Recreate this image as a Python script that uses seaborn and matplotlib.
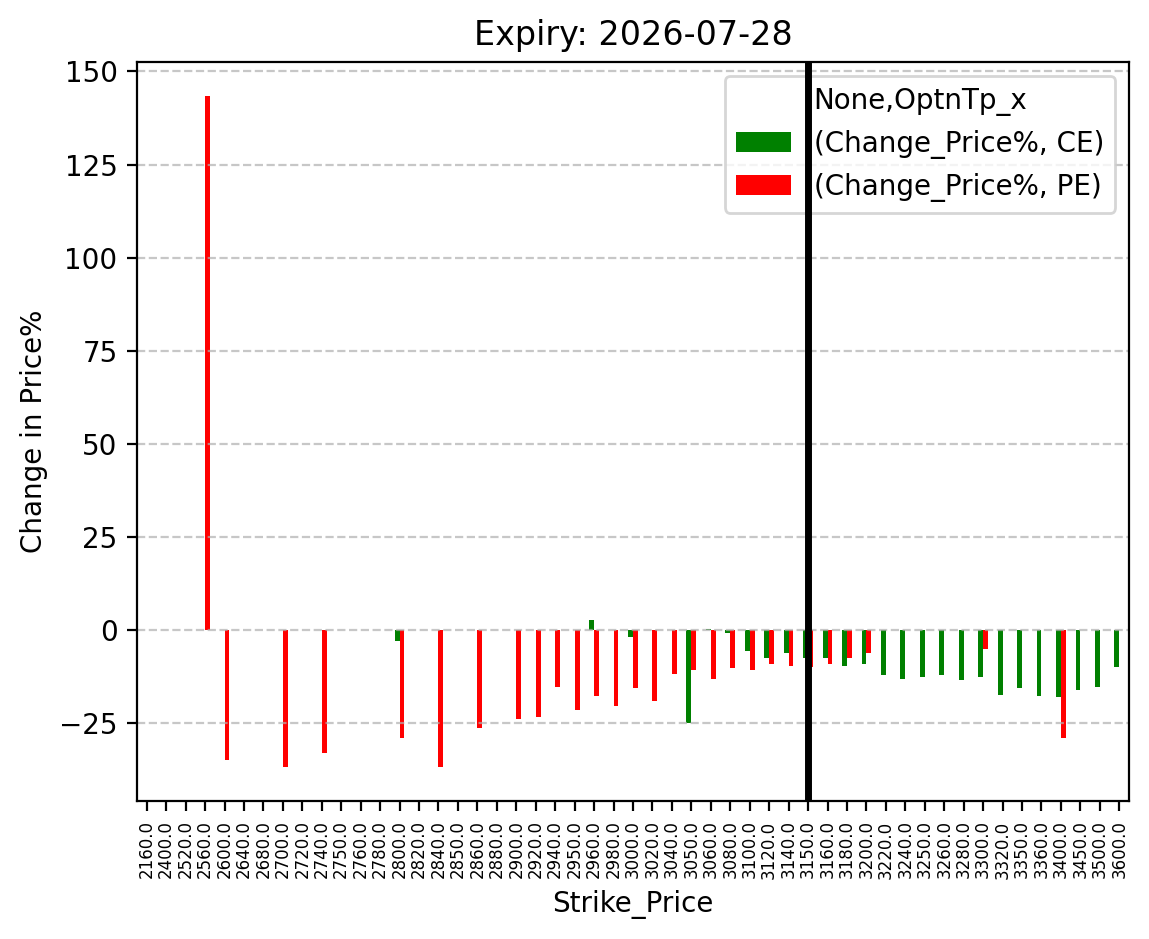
import numpy as np
import pandas as pd
import matplotlib
matplotlib.use("Agg")
import matplotlib.pyplot as plt
from matplotlib.patches import Patch
import seaborn as sns

nan = np.nan

# --- Données ---
strikes = [2160, 2400, 2520, 2560, 2600, 2640, 2680, 2700, 2720, 2740,
           2750, 2760, 2780, 2800, 2820, 2840, 2850, 2860, 2880, 2900,
           2920, 2940, 2950, 2960, 2980, 3000, 3020, 3040, 3050, 3060,
           3080, 3100, 3120, 3140, 3150, 3160, 3180, 3200, 3220, 3240,
           3250, 3260, 3280, 3300, 3320, 3350, 3360, 3400, 3450, 3500, 3600]

ce_change = [nan, nan, nan, nan, nan, nan, nan, nan, nan, nan,
             nan, nan, nan, -3.0, nan, nan, nan, nan, nan, nan,
             nan, nan, nan, 2.7, nan, -1.9, nan, nan, -25.0, 0.3,
             -0.8, -5.6, -7.5, -6.2, -7.5, -7.5, -9.7, -9.1, -12.1, -13.2,
             -12.6, -12.1, -13.4, -12.6, -17.5, -15.6, -17.7, -18.0, -16.1, -15.1, -9.9]

pe_change = [nan, nan, nan, 143.5, -34.7, nan, nan, -36.8, nan, -32.8,
             nan, nan, nan, -29.0, nan, -36.6, nan, -26.3, nan, -23.7,
             -23.4, -15.1, -21.5, -17.7, -20.4, -15.6, -19.1, -11.8, -10.75, -13.2,
             -10.2, -10.75, -9.1, -9.7, -9.9, -9.1, -7.5, -6.2, nan, nan,
             nan, nan, nan, -5.1, nan, nan, nan, -28.8, nan, nan, nan]

option_types = ["CE", "PE"]
atm_strike = 3150
expiry = "2026-07-28"

labels = [f"{float(s):.1f}" for s in strikes]

df = pd.DataFrame({
    "Strike_Price": labels * 2,
    "OptnTp_x": ["CE"] * len(strikes) + ["PE"] * len(strikes),
    "Change_Price%": ce_change + pe_change,
})

# --- Graphique ---
fig = plt.figure(figsize=(1149 / 200, 939 / 200), dpi=200)
ax = fig.add_axes([137 / 1149, 1 - 801 / 939, (1129 - 137) / 1149, (801 - 62) / 939])

sns.barplot(data=df, x="Strike_Price", y="Change_Price%", hue="OptnTp_x",
            order=labels, hue_order=option_types,
            palette={"CE": "green", "PE": "red"}, saturation=1,
            width=0.5, errorbar=None, linewidth=0, legend=False, ax=ax)

ax.axvline(labels.index(f"{float(atm_strike):.1f}"), color="black", linewidth=2.5, zorder=6)

ax.grid(axis="y", linestyle="--", alpha=0.7)
ax.set_title(f"Expiry: {expiry}", fontsize=12)
ax.set_xlabel("Strike_Price")
ax.set_ylabel("Change in Price%")
ax.tick_params(axis="x", labelrotation=90, labelsize=6)

handles = [Patch(facecolor="green"), Patch(facecolor="red")]
ax.legend(handles, ["(Change_Price%, CE)", "(Change_Price%, PE)"],
          title="None,OptnTp_x", loc="upper right")

fig.savefig("out.png", dpi=200)
